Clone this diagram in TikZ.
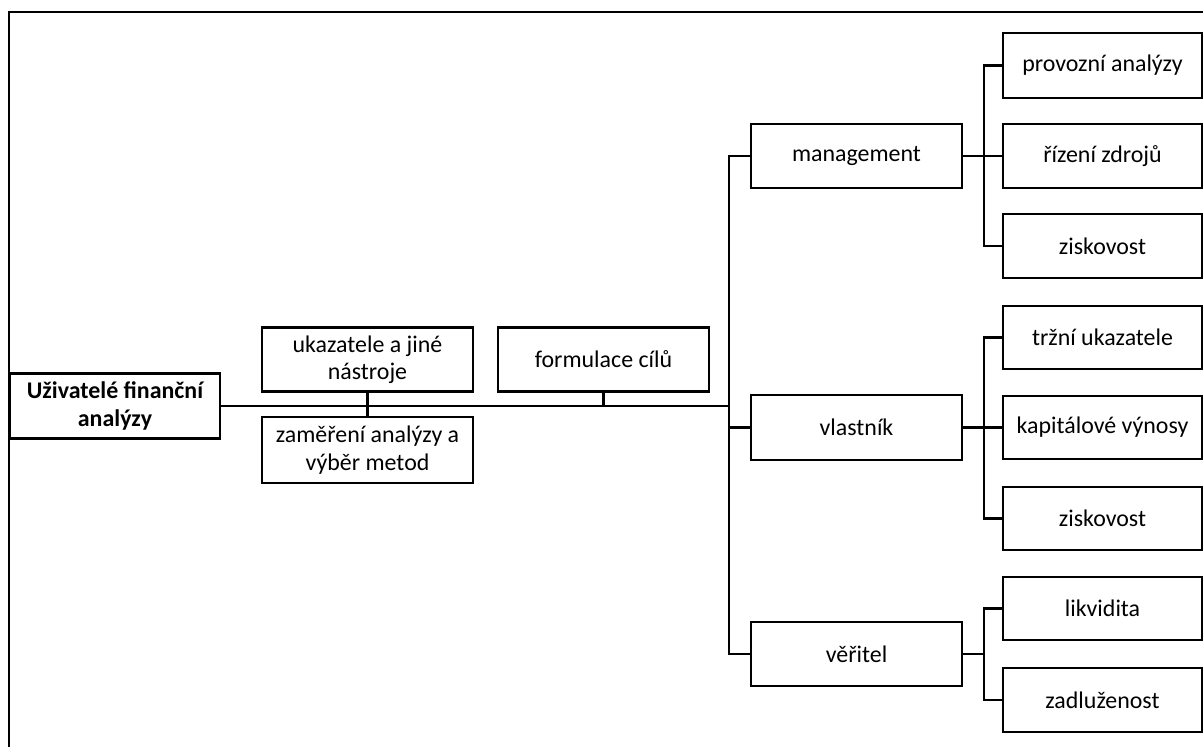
\documentclass[tikz,border=0pt]{standalone}
\usepackage{fontspec}
\setmainfont{Carlito}
\usetikzlibrary{positioning}

\begin{document}
\begin{tikzpicture}[x=0.025cm, y=-0.025cm,
  box/.style={rectangle, draw, line width=1.5pt, align=center, inner sep=2pt,
    font=\fontsize{17}{19.5}\selectfont, minimum height=1.6cm},
  mid/.style={box, minimum width=5.275cm},
  leaf/.style={box, minimum width=4.975cm},
  link/.style={line width=1.5pt}]

\useasboundingbox (0,0) rectangle (1203,747);
\draw[line width=1.2pt] (9,747) -- (9,12) -- (1203,12);

\node[box, minimum width=5.25cm, minimum height=1.625cm, font=\fontsize{17}{19.5}\selectfont\bfseries] (root) at (115,406) {Uživatelé finanční\\analýzy};
\node[mid, minimum height=1.6cm] (ukaz) at (367.5,359.5) {ukazatele a jiné\\nástroje};
\node[mid, minimum height=1.65cm] (zamer) at (367.5,450) {zaměření analýzy a\\výběr metod};
\node[mid, minimum height=1.6cm] (cile) at (603.5,359.5) {formulace cílů};
\coordinate (tj) at (730,406);

\draw[link] (root.east) -- (tj);
\draw[link] (ukaz.south) -- (zamer.north);
\draw[link] (cile.south) -- (cile.south |- tj);

\node[mid] (mgmt) at (856.5,156) {management};
\node[mid, minimum height=1.625cm] (vlast) at (856.5,427.5) {vlastník};
\node[mid] (veri) at (856.5,654) {věřitel};

\draw[link] (mgmt.west) -- ++(-21,0) |- (veri.west);
\draw[link] (vlast.west) -- (vlast.west -| tj);

\node[leaf, minimum height=1.625cm] (m1) at (1102.5,65.5) {provozní analýzy};
\node[leaf] (m2) at (1102.5,156) {řízení zdrojů};
\node[leaf] (m3) at (1102.5,246) {ziskovost};
\draw[link] (mgmt.east) -- ++(21,0) coordinate (ms);
\draw[link] (m1.west) -| (ms) |- (m3.west);
\draw[link] (m2.west) -- (ms);

\node[leaf, minimum height=1.575cm] (v1) at (1102.5,337.5) {tržní ukazatele};
\node[leaf, minimum height=1.575cm] (v2) at (1102.5,427.5) {kapitálové výnosy};
\node[leaf, minimum height=1.575cm] (v3) at (1102.5,518.5) {ziskovost};
\draw[link] (vlast.east) -- ++(21,0) coordinate (vs);
\draw[link] (v1.west) -| (vs) |- (v3.west);
\draw[link] (v2.west) -- (vs);

\node[leaf, minimum height=1.575cm] (c1) at (1102.5,608.5) {likvidita};
\node[leaf] (c2) at (1102.5,700) {zadluženost};
\draw[link] (veri.east) -- ++(21,0) coordinate (cs);
\draw[link] (c1.west) -| (cs) |- (c2.west);

\end{tikzpicture}
\end{document}
